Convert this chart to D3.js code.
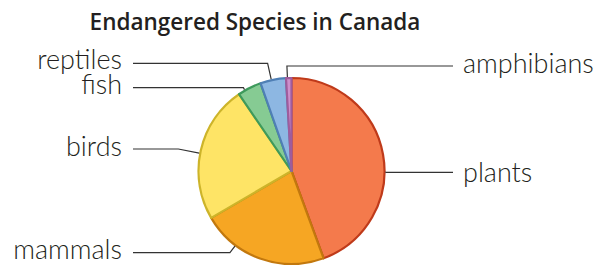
<!DOCTYPE html>
<html><head><meta charset="utf-8">
<script src="https://cdn.jsdelivr.net/npm/d3@7/dist/d3.min.js"></script>
<style>
html,body{margin:0;padding:0;background:#fff;}
svg{display:block;}
</style></head>
<body>
<svg id="chart" width="600" height="265"></svg>
<script>
// ---- data ----
const categories = ["plants", "mammals", "birds", "fish", "reptiles", "amphibians"];
const values = [80, 40, 43, 7.5, 8, 1.7];
const fills = ["#F47A4C", "#F6A623", "#FEE466", "#86CB93", "#8DB7E2", "#CD8FCB"];
const strokes = ["#BF3A1A", "#C2780E", "#CDB42A", "#3E9A5C", "#4F7FB5", "#9F5C9C"];
const title = "Endangered Species in Canada";

// ---- layout (annotation placement) ----
const cx = 291.5, cy = 171, R = 93;
const labelLayout = {
  plants:     {side: "right", lineY: 172.3, angle: 90.8,  textY: 182},
  mammals:    {side: "left",  lineY: 252.7, angle: 217,   textY: 259},
  birds:      {side: "left",  lineY: 149,   angle: 281,   textY: 156},
  fish:       {side: "left",  lineY: 87.7,  angle: 330,   textY: 94},
  reptiles:   {side: "left",  lineY: 63.3,  angle: 347.5, textY: 69},
  amphibians: {side: "right", lineY: 66,    angle: 357.5, textY: 73}
};
const leftTextX = 122, leftLineX = 133, rightLineX = 453, rightTextX = 463;

const svg = d3.select("#chart");

svg.append("text")
  .attr("x", 255).attr("y", 30)
  .attr("text-anchor", "middle")
  .attr("font-family", "'Open Sans', sans-serif")
  .attr("font-weight", 600)
  .attr("font-size", 22.5)
  .attr("fill", "#231f20")
  .text(title);

const data = categories.map((c, i) => ({name: c, value: values[i], i}));
const pie = d3.pie().value(d => d.value).sort(null).startAngle(0).endAngle(2 * Math.PI);
const arc = d3.arc().innerRadius(0).outerRadius(R);

const g = svg.append("g").attr("transform", `translate(${cx},${cy})`);
g.selectAll("path.slice")
  .data(pie(data))
  .join("path")
  .attr("class", "slice")
  .attr("d", arc)
  .attr("fill", d => fills[d.data.i])
  .attr("stroke", d => strokes[d.data.i])
  .attr("stroke-width", 2.2)
  .attr("stroke-linejoin", "round");

// leader lines & labels
const rad = a => a * Math.PI / 180;
data.forEach(d => {
  const L = labelLayout[d.name];
  const th = rad(L.angle);
  const sx = Math.sin(th), cy0 = Math.cos(th);
  const ax = cx + (R + 1) * sx, ay = cy - (R + 1) * cy0;
  let ex, ey;
  const r2 = (cy - L.lineY) / cy0;
  if (Math.abs(cy0) > 0.05 && r2 > R) {
    ex = cx + r2 * sx; ey = L.lineY;
  } else {
    ex = ax; ey = L.lineY;
  }
  const endX = L.side === "left" ? leftLineX : rightLineX;
  svg.append("polyline")
    .attr("points", [[ax, ay], [ex, ey], [endX, L.lineY]].map(p => p.join(",")).join(" "))
    .attr("fill", "none")
    .attr("stroke", "#333")
    .attr("stroke-width", 1.2);
  svg.append("text")
    .attr("x", L.side === "left" ? leftTextX : rightTextX)
    .attr("y", L.textY)
    .attr("text-anchor", L.side === "left" ? "end" : "start")
    .attr("font-family", "Lato, 'Open Sans', sans-serif")
    .attr("font-weight", 300)
    .attr("font-size", 27)
    .attr("fill", "#231f20")
    .text(d.name);
});
</script>
</body></html>
